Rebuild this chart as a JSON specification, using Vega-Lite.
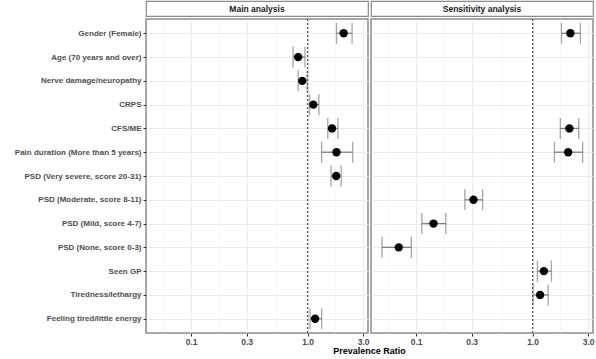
{
  "$schema": "https://vega.github.io/schema/vega-lite/v6.json",
  "padding": {"left": 5, "top": 0, "right": 2, "bottom": 0},
  "title": {"text": "Prevalence Ratio", "orient": "bottom", "anchor": "start", "frame": "group", "align": "center", "dx": 223.5, "offset": 1, "fontSize": 9, "fontWeight": "bold", "color": "black", "font": "Liberation Sans"},
  "datasets": {
    "forest": [
      {"panel": "Main analysis", "label": "Gender (Female)", "pr": 2.04, "lo": 1.77, "hi": 2.41},
      {"panel": "Main analysis", "label": "Age  (70 years and over)", "pr": 0.83, "lo": 0.75, "hi": 0.95},
      {"panel": "Main analysis", "label": "Nerve damage/neuropathy", "pr": 0.90, "lo": 0.83, "hi": 0.99},
      {"panel": "Main analysis", "label": "CRPS", "pr": 1.12, "lo": 1.04, "hi": 1.25},
      {"panel": "Main analysis", "label": "CFS/ME", "pr": 1.62, "lo": 1.49, "hi": 1.82},
      {"panel": "Main analysis", "label": "Pain duration (More than 5 years)", "pr": 1.77, "lo": 1.32, "hi": 2.44},
      {"panel": "Main analysis", "label": "PSD (Very severe, score  20-31)", "pr": 1.76, "lo": 1.59, "hi": 1.94},
      {"panel": "Main analysis", "label": "Feeling tired/little energy", "pr": 1.16, "lo": 1.05, "hi": 1.32},
      {"panel": "Sensitivity analysis", "label": "Gender (Female)", "pr": 2.11, "lo": 1.77, "hi": 2.57},
      {"panel": "Sensitivity analysis", "label": "CFS/ME", "pr": 2.07, "lo": 1.73, "hi": 2.49},
      {"panel": "Sensitivity analysis", "label": "Pain duration (More than 5 years)", "pr": 2.02, "lo": 1.54, "hi": 2.69},
      {"panel": "Sensitivity analysis", "label": "PSD (Moderate, score 8-11)", "pr": 0.311, "lo": 0.262, "hi": 0.372},
      {"panel": "Sensitivity analysis", "label": "PSD (Mild, score 4-7)", "pr": 0.141, "lo": 0.112, "hi": 0.18},
      {"panel": "Sensitivity analysis", "label": "PSD (None, score 0-3)", "pr": 0.071, "lo": 0.051, "hi": 0.091},
      {"panel": "Sensitivity analysis", "label": "Seen GP", "pr": 1.25, "lo": 1.10, "hi": 1.45},
      {"panel": "Sensitivity analysis", "label": "Tiredness/lethargy", "pr": 1.16, "lo": 1.01, "hi": 1.36}
    ],
    "minor": [{"v": 0.058}, {"v": 0.173}, {"v": 0.548}, {"v": 1.732}],
    "ref": [{"v": 1}]
  },
  "spacing": 0,
  "hconcat": [
    {
      "spacing": 0,
      "vconcat": [
        {
          "width": 222, "height": 15,
          "data": {"values": [{"p": "Main analysis"}]},
          "view": {"stroke": "#8c8c8c", "strokeWidth": 1.2, "fill": "white"},
          "mark": {"type": "text", "fontWeight": "bold", "fontSize": 8.5, "color": "#1a1a1a"},
          "encoding": {
            "text": {"field": "p"},
            "y": {"field": "p", "type": "nominal", "axis": {"labels": false, "ticks": false, "domain": false, "grid": false, "title": null, "minExtent": 140, "maxExtent": 140}}
          }
        },
        {
          "width": 222, "height": 314,
          "view": {"stroke": "#8c8c8c", "strokeWidth": 1.5},
          "layer": [
            {
              "data": {"name": "minor"},
              "mark": {"type": "rule", "color": "#f2f2f2", "strokeWidth": 0.7},
              "encoding": {
                "x": {"field": "v", "type": "quantitative",
                  "scale": {"type": "log", "domain": [0.041, 3.3], "nice": false},
                  "axis": {"values": [0.1, 0.3, 1, 3], "format": ".1f", "grid": true, "gridColor": "#ebebeb", "gridWidth": 1, "tickSize": 3, "tickColor": "#333333", "labelFontSize": 8.5, "labelFontWeight": "bold", "labelColor": "#4d4d4d", "labelPadding": 1, "domain": false, "title": null}}
              }
            },
            {
              "data": {"name": "ref"},
              "mark": {"type": "rule", "color": "#555555", "strokeDash": [2, 2], "strokeWidth": 1.3},
              "encoding": {"x": {"field": "v", "type": "quantitative"}}
            },
            {
              "data": {"name": "forest"},
              "transform": [{"filter": "datum.panel === 'Main analysis'"}],
              "encoding": {
                "y": {"field": "label", "type": "nominal",
                  "scale": {"type": "point", "padding": 0.6, "domain": ["Gender (Female)", "Age  (70 years and over)", "Nerve damage/neuropathy", "CRPS", "CFS/ME", "Pain duration (More than 5 years)", "PSD (Very severe, score  20-31)", "PSD (Moderate, score 8-11)", "PSD (Mild, score 4-7)", "PSD (None, score 0-3)", "Seen GP", "Tiredness/lethargy", "Feeling tired/little energy"]},
                  "axis": {"title": null, "labelFontSize": 8, "labelFontWeight": "bold", "labelColor": "#4d4d4d", "tickSize": 3, "tickColor": "#333333", "labelPadding": 2, "domain": false, "grid": true, "gridColor": "#ebebeb", "minExtent": 140, "maxExtent": 140}}
              },
              "layer": [
                {"mark": {"type": "rule", "color": "#7f7f7f", "strokeWidth": 1.3},
                 "encoding": {"x": {"field": "lo", "type": "quantitative"}, "x2": {"field": "hi"}}},
                {"mark": {"type": "tick", "orient": "vertical", "size": 21, "thickness": 1.3, "color": "#7f7f7f"},
                 "encoding": {"x": {"field": "lo", "type": "quantitative"}}},
                {"mark": {"type": "tick", "orient": "vertical", "size": 21, "thickness": 1.3, "color": "#7f7f7f"},
                 "encoding": {"x": {"field": "hi", "type": "quantitative"}}},
                {"mark": {"type": "point", "filled": true, "color": "black", "opacity": 1, "size": 70},
                 "encoding": {"x": {"field": "pr", "type": "quantitative"}}}
              ]
            }
          ]
        }
      ]
    },
    {
      "spacing": 0,
      "vconcat": [
        {
          "width": 222, "height": 15,
          "data": {"values": [{"p": "Sensitivity analysis"}]},
          "view": {"stroke": "#8c8c8c", "strokeWidth": 1.2, "fill": "white"},
          "mark": {"type": "text", "fontWeight": "bold", "fontSize": 8.5, "color": "#1a1a1a"},
          "encoding": {"text": {"field": "p"}}
        },
        {
          "width": 222, "height": 314,
          "view": {"stroke": "#8c8c8c", "strokeWidth": 1.5},
          "layer": [
            {
              "data": {"name": "minor"},
              "mark": {"type": "rule", "color": "#f2f2f2", "strokeWidth": 0.7},
              "encoding": {
                "x": {"field": "v", "type": "quantitative",
                  "scale": {"type": "log", "domain": [0.041, 3.3], "nice": false},
                  "axis": {"values": [0.1, 0.3, 1, 3], "format": ".1f", "grid": true, "gridColor": "#ebebeb", "gridWidth": 1, "tickSize": 3, "tickColor": "#333333", "labelFontSize": 8.5, "labelFontWeight": "bold", "labelColor": "#4d4d4d", "labelPadding": 1, "domain": false, "title": null}}
              }
            },
            {
              "data": {"name": "ref"},
              "mark": {"type": "rule", "color": "#555555", "strokeDash": [2, 2], "strokeWidth": 1.3},
              "encoding": {"x": {"field": "v", "type": "quantitative"}}
            },
            {
              "data": {"name": "forest"},
              "transform": [{"filter": "datum.panel === 'Sensitivity analysis'"}],
              "encoding": {
                "y": {"field": "label", "type": "nominal",
                  "scale": {"type": "point", "padding": 0.6, "domain": ["Gender (Female)", "Age  (70 years and over)", "Nerve damage/neuropathy", "CRPS", "CFS/ME", "Pain duration (More than 5 years)", "PSD (Very severe, score  20-31)", "PSD (Moderate, score 8-11)", "PSD (Mild, score 4-7)", "PSD (None, score 0-3)", "Seen GP", "Tiredness/lethargy", "Feeling tired/little energy"]},
                  "axis": {"title": null, "labels": false, "ticks": false, "domain": false, "grid": true, "gridColor": "#ebebeb"}}
              },
              "layer": [
                {"mark": {"type": "rule", "color": "#7f7f7f", "strokeWidth": 1.3},
                 "encoding": {"x": {"field": "lo", "type": "quantitative"}, "x2": {"field": "hi"}}},
                {"mark": {"type": "tick", "orient": "vertical", "size": 21, "thickness": 1.3, "color": "#7f7f7f"},
                 "encoding": {"x": {"field": "lo", "type": "quantitative"}}},
                {"mark": {"type": "tick", "orient": "vertical", "size": 21, "thickness": 1.3, "color": "#7f7f7f"},
                 "encoding": {"x": {"field": "hi", "type": "quantitative"}}},
                {"mark": {"type": "point", "filled": true, "color": "black", "opacity": 1, "size": 70},
                 "encoding": {"x": {"field": "pr", "type": "quantitative"}}}
              ]
            }
          ]
        }
      ]
    }
  ],
  "config": {
    "font": "Liberation Sans",
    "view": {"stroke": null}
  }
}
